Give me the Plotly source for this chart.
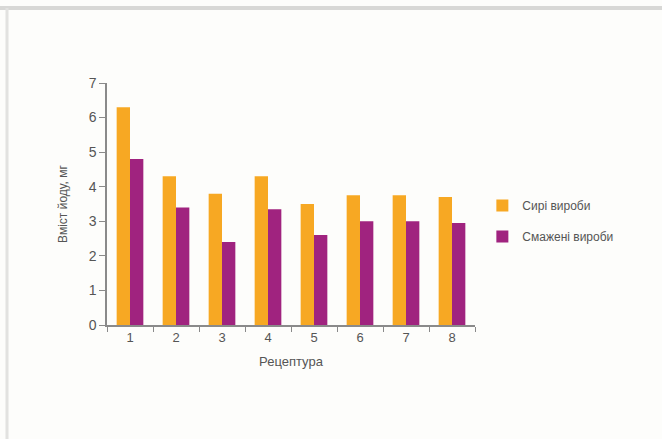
import plotly.graph_objects as go

categories = ["1", "2", "3", "4", "5", "6", "7", "8"]
raw = [6.3, 4.3, 3.8, 4.3, 3.5, 3.75, 3.75, 3.7]
fried = [4.8, 3.4, 2.4, 3.35, 2.6, 3.0, 3.0, 2.95]
series_names = ["Сирі вироби", "Смажені вироби"]
colors = ["#F7A823", "#A0237F"]

W, H = 662, 439
ml, mr, mt, mb = 107, 187, 83, 114

fig = go.Figure()
for name, vals, col, grp in [(series_names[0], raw, colors[0], "a"), (series_names[1], fried, colors[1], "b")]:
    fig.add_trace(go.Bar(x=categories, y=vals, name=name, marker=dict(color=col, line=dict(width=0)),
                         legendgroup=grp))

axis_color = "#8a8a8a"
font_color = "#555555"
fig.update_layout(
    width=W, height=H,
    margin=dict(l=ml, r=mr, t=mt, b=mb, autoexpand=False),
    paper_bgcolor="#fdfdfb", plot_bgcolor="#fdfdfb",
    barmode="group", bargap=0.42, bargroupgap=0,
    font=dict(family="Liberation Sans, Arial, sans-serif", size=13, color=font_color),
    showlegend=True,
    legend=dict(x=1.02, y=0.43, xanchor="left", yanchor="middle", tracegroupgap=12,
                itemwidth=30,
                font=dict(size=12, color=font_color), bgcolor="rgba(0,0,0,0)"),
    xaxis=dict(type="category", showline=True, linecolor=axis_color, linewidth=1.5,
               ticks="outside", tickson="boundaries", ticklen=5, tickcolor=axis_color,
               showgrid=False, zeroline=False,
               title=dict(text="Рецептура", font=dict(size=13, color=font_color), standoff=13)),
    yaxis=dict(range=[0, 7], dtick=1, showline=True, linecolor=axis_color, linewidth=1.5,
               ticks="outside", ticklen=6, tickcolor=axis_color, showgrid=False, zeroline=False,
               tickfont=dict(size=14),
               title=dict(text="Вміст йоду, мг", font=dict(size=12, color=font_color), standoff=18)),
    shapes=[
        dict(type="line", xref="paper", yref="paper", x0=-ml / (W - ml - mr), x1=(W - ml) / (W - ml - mr),
             y0=1 + (mt - 8) / (H - mt - mb), y1=1 + (mt - 8) / (H - mt - mb),
             line=dict(color="#d8d8d6", width=4)),
        dict(type="line", xref="paper", yref="paper", x0=-(ml - 7) / (W - ml - mr), x1=-(ml - 7) / (W - ml - mr),
             y0=-mb / (H - mt - mb), y1=1 + (mt - 8) / (H - mt - mb),
             line=dict(color="#e2e2e0", width=3)),
    ],
)

fig.write_html("out.html")
